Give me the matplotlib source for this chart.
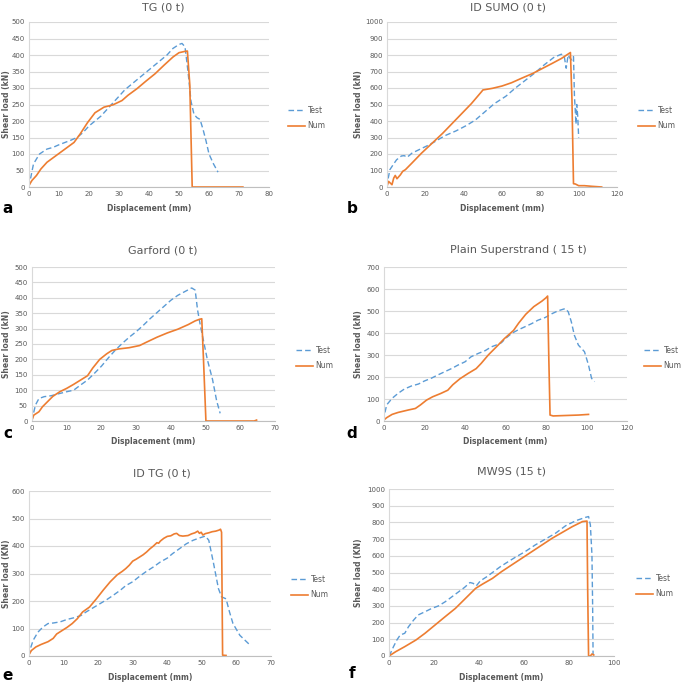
import numpy as np
import matplotlib
matplotlib.use("Agg")
import matplotlib.pyplot as plt

# ---- data ----
# a: TG (0 t)
tg_test_x = [0, 0.5, 1.5, 3.5, 6, 8, 10, 12, 14, 16, 18, 20, 22, 24, 26, 28, 30, 32, 34, 36, 38, 40,
             42, 44, 46, 48, 50, 51, 52, 53, 54, 55, 56, 57, 58, 59, 60, 61.5, 63]
tg_test_y = [0, 25, 70, 100, 115, 120, 128, 135, 142, 150, 165, 185, 200, 215, 235, 255, 275, 295, 310,
             325, 340, 355, 370, 385, 400, 420, 432, 435, 425, 350, 260, 220, 210, 205, 175, 140, 100, 70, 45]
tg_num_x = [0, 1, 2.5, 4, 6, 9, 12, 15, 17, 19.5, 22, 25, 28, 31, 33, 36, 39, 42, 45, 48, 50, 52, 52.8,
            53.6, 54.4, 60, 71.3]
tg_num_y = [5, 20, 35, 55, 75, 95, 115, 135, 160, 195, 225, 242, 249, 262, 278, 298, 321, 343, 369, 394,
            407, 411, 412, 310, 0, 0, 0]

# b: ID SUMO (0 t)
sumo_test_x = [0, 0.5, 1.5, 3.5, 5, 7.5, 9, 10.5, 13, 16.5, 21, 25, 30, 36, 41, 46, 51, 56, 62, 67, 72,
               77, 82, 87, 91, 92.5, 93.5, 94.5, 95.5, 96.5, 97.3, 97.8, 98.2, 98.6, 99, 99.5, 100]
sumo_test_y = [0, 45, 105, 140, 165, 188, 190, 180, 205, 225, 250, 275, 310, 340, 370, 405, 455, 505,
               550, 600, 645, 690, 740, 785, 805, 790, 720, 800, 780, 770, 790, 550, 470, 380, 500, 430, 300]
sumo_num_x = [0, 0.8, 1.7, 2.6, 3.5, 4.3, 5.2, 7, 8.2, 9.6, 13, 18, 23.5, 29, 34, 39, 44, 49.5, 50, 55,
              60, 65, 70, 76, 81, 86, 91, 95.7, 96.5, 97.3, 98.3, 100, 103, 107, 112]
sumo_num_y = [4, 34, 24, 14, 54, 70, 50, 74, 95, 105, 145, 205, 265, 325, 385, 445, 505, 580, 588, 598,
              612, 632, 658, 688, 718, 748, 779, 815, 530, 20, 18, 8, 8, 4, 0]

# c: Garford (0 t)
gar_test_x = [0, 0.2, 1, 2, 3.5, 5.5, 7.5, 10, 12, 14, 16, 18, 20, 22, 24, 26, 28, 30, 32, 34, 36, 38,
              40, 42, 44, 46, 47, 47.7, 48.5, 49.5, 50.5, 52, 53.2, 54.2]
gar_test_y = [0, 14, 52, 73, 79, 82, 88, 95, 100, 117, 133, 155, 178, 205, 230, 252, 272, 290, 310, 332,
              352, 372, 392, 408, 420, 432, 425, 360, 310, 255, 200, 135, 65, 25]
gar_num_x = [0, 0.5, 2, 3, 4.5, 6, 8, 10, 12, 14, 16, 17.5, 19.5, 21.5, 23, 25, 28, 31, 33, 36, 39, 42,
             45, 47, 48.2, 48.9, 49.4, 50.1, 55, 64, 64.7]
gar_num_y = [3, 19, 30, 46, 63, 80, 95, 106, 119, 133, 147, 172, 200, 218, 229, 234, 238, 245, 256, 272,
             286, 298, 313, 325, 330, 332, 200, 0, 0, 0, 3]

# d: Plain Superstrand (15 t)
ps_test_x = [0, 0.2, 1.3, 4, 7, 10, 13.5, 17, 20, 23.5, 26.5, 30, 33.5, 36.5, 40, 43, 46.5, 50, 53, 56.5,
             58, 60, 63, 66, 69.5, 73, 76, 79.5, 83, 86, 89.5, 91, 92.5, 94, 96, 99, 101, 102.5, 104]
ps_test_y = [0, 27, 73, 103, 126, 145, 159, 168, 182, 195, 209, 224, 239, 254, 269, 292, 307, 320, 337,
             349, 356, 375, 398, 413, 428, 443, 458, 470, 488, 501, 511, 496, 451, 390, 345, 315, 254, 194, 179]
ps_num_x = [0, 1.3, 4, 7, 12, 15.5, 18, 21, 24, 28, 31.5, 34, 37.5, 41.5, 45.5, 48, 51.5, 55.5, 59.5, 64,
            66.5, 70, 74, 78, 80, 80.8, 81.4, 82, 83.5, 96, 101]
ps_num_y = [5, 15, 30, 39, 50, 57, 73, 95, 110, 125, 140, 165, 192, 216, 238, 262, 300, 337, 375, 412,
            445, 485, 520, 545, 560, 568, 280, 27, 23, 27, 30]

# e: ID TG (0 t)
idtg_test_x = [0, 0.4, 1.2, 2.6, 4, 5.5, 7, 9, 11, 13, 15, 16.5, 18.5, 20.5, 22.5, 24.5, 26.5, 28, 30,
               32, 34, 36, 38, 40, 41.5, 43.5, 45.5, 47.5, 49.5, 51, 52, 53.3, 54.8, 55.7, 57, 58, 59,
               61, 63, 64]
idtg_test_y = [0, 27, 57, 87, 105, 118, 120, 124, 133, 139, 147, 160, 175, 190, 205, 222, 240, 256, 270,
               290, 308, 324, 342, 356, 372, 390, 408, 421, 430, 436, 421, 342, 245, 215, 208, 160, 118,
               75, 51, 39]
idtg_num_x = [0, 0.7, 2, 3.5, 5.5, 7, 8, 9.5, 11, 12.5, 14, 15.5, 17.5, 19.5, 21.5, 23.5, 25.5, 27, 28,
              29, 30, 31, 32, 33, 34, 35, 36, 37, 37.5, 38, 39, 40, 41, 42, 42.7, 43.5, 44.5, 46, 47, 48,
              48.8, 49.3, 49.8, 50.3, 51, 52, 53, 54, 55, 55.4, 55.7, 56, 57]
idtg_num_y = [5, 20, 33, 42, 52, 64, 80, 92, 104, 118, 136, 160, 178, 208, 240, 270, 295, 308, 318, 330,
              345, 352, 360, 368, 378, 390, 400, 412, 410, 418, 428, 435, 437, 444, 446, 438, 436, 438,
              444, 448, 454, 446, 450, 440, 445, 448, 452, 454, 458, 461, 450, 3, 2]

# f: MW9S (15 t)
mw_test_x = [0, 0.3, 2, 3.5, 5, 7, 8.7, 11, 13, 16, 19, 22, 25, 28, 31, 33.5, 36, 37.4, 38.8, 40.6, 43.5,
             46.5, 49.5, 53, 56, 60.5, 65, 69.5, 74, 78.5, 83, 87.3, 88.7, 89.5, 90.2, 90.5, 90.7]
mw_test_y = [0, 6, 56, 96, 126, 136, 176, 216, 246, 265, 285, 300, 325, 355, 385, 410, 440, 435, 420, 450,
             475, 505, 535, 565, 590, 625, 665, 700, 735, 780, 810, 830, 835, 785, 605, 305, 6]
mw_num_x = [0, 3, 7, 12, 16, 20.5, 25, 29.5, 34, 38.5, 41.5, 46, 50, 54.5, 59, 63.5, 68, 72.5, 77, 81.5,
            86, 88, 88.3, 88.7, 89.5, 90.2, 91]
mw_num_y = [0, 26, 56, 96, 136, 186, 236, 285, 345, 405, 430, 465, 505, 545, 585, 625, 665, 705, 740,
            775, 805, 808, 400, 0, 0, 12, 6]

titles = ["TG (0 t)", "ID SUMO (0 t)", "Garford (0 t)", "Plain Superstrand ( 15 t)", "ID TG (0 t)", "MW9S (15 t)"]
letters = ["a", "b", "c", "d", "e", "f"]
ylabels = ["Shear load (kN)"] * 4 + ["Shear load (KN)"] * 2
xmaxes = [80, 120, 70, 120, 70, 100]
xsteps = [10, 20, 10, 20, 10, 20]
ymaxes = [500, 1000, 500, 700, 600, 1000]
ysteps = [50, 100, 50, 100, 100, 100]
series = [
    (tg_test_x, tg_test_y, tg_num_x, tg_num_y),
    (sumo_test_x, sumo_test_y, sumo_num_x, sumo_num_y),
    (gar_test_x, gar_test_y, gar_num_x, gar_num_y),
    (ps_test_x, ps_test_y, ps_num_x, ps_num_y),
    (idtg_test_x, idtg_test_y, idtg_num_x, idtg_num_y),
    (mw_test_x, mw_test_y, mw_num_x, mw_num_y),
]

# ---- layout (pixel boxes: left, right, top, bottom) ----
W, H = 685, 683
boxes = [(29, 269, 22, 187), (387, 617, 22, 187),
         (32, 275, 267, 421), (384, 627, 267, 421),
         (29, 271, 491, 656), (389, 614, 489, 656)]
title_pos = [(163, 7), (508, 7), (163, 250), (518, 250), (162, 473), (512, 472)]
letter_pos = [(8, 209), (352, 209), (8, 433), (352, 433), (8, 675), (352, 673)]
xlab_y = [209, 209, 442, 442, 678, 678]
ylab_x = [6, 358, 6, 359, 6, 359]
leg_pos = [(284, 118), (634, 118), (292, 358), (640, 358), (287, 587), (632, 586)]

BLUE = "#5B9BD5"
ORANGE = "#ED7D31"
GREY = "#595959"

fig = plt.figure(figsize=(W / 100, H / 100), dpi=100)
fig.patch.set_facecolor("white")

for i in range(6):
    l, r, t, b = boxes[i]
    ax = fig.add_axes([l / W, 1 - b / H, (r - l) / W, (b - t) / H])
    tx, ty, nx, ny = series[i]
    ax.plot(tx, ty, color=BLUE, lw=1.0, dashes=(4, 2.2), label="Test")
    ax.plot(nx, ny, color=ORANGE, lw=1.2, label="Num")
    ax.set_xlim(0, xmaxes[i])
    ax.set_ylim(0, ymaxes[i])
    ax.set_xticks(np.arange(0, xmaxes[i] + 1, xsteps[i]))
    ax.set_yticks(np.arange(0, ymaxes[i] + 1, ysteps[i]))
    ax.tick_params(length=0, labelsize=5, colors=GREY, pad=3)
    ax.grid(axis="y", color="#D9D9D9", lw=0.8)
    ax.set_axisbelow(True)
    for s in ["top", "right"]:
        ax.spines[s].set_visible(False)
    ax.spines["left"].set_color("#D9D9D9")
    ax.spines["bottom"].set_color("#BFBFBF")
    ax.spines["left"].set_linewidth(0.8)
    ax.spines["bottom"].set_linewidth(0.8)

    fig.text(title_pos[i][0] / W, 1 - title_pos[i][1] / H, titles[i], ha="center", va="center",
             fontsize=8, color=GREY)
    fig.text((l + r) / 2 / W, 1 - xlab_y[i] / H, "Displacement (mm)", ha="center", va="center",
             fontsize=5.5, color=GREY, fontweight="bold")
    fig.text(ylab_x[i] / W, 1 - (t + b) / 2 / H, ylabels[i], ha="center", va="center", rotation=90,
             fontsize=5.5, color=GREY, fontweight="bold")
    fig.text(letter_pos[i][0] / W, 1 - letter_pos[i][1] / H, letters[i], ha="center", va="center",
             fontsize=11, color="black", fontweight="bold")
    ax.legend(loc="center left", bbox_to_anchor=(leg_pos[i][0] / W, 1 - leg_pos[i][1] / H),
              bbox_transform=fig.transFigure, frameon=False, fontsize=5.5, labelcolor=GREY,
              handlelength=2.3, handletextpad=0.3, labelspacing=0.9, borderpad=0)

fig.savefig("out.png", dpi=100)
